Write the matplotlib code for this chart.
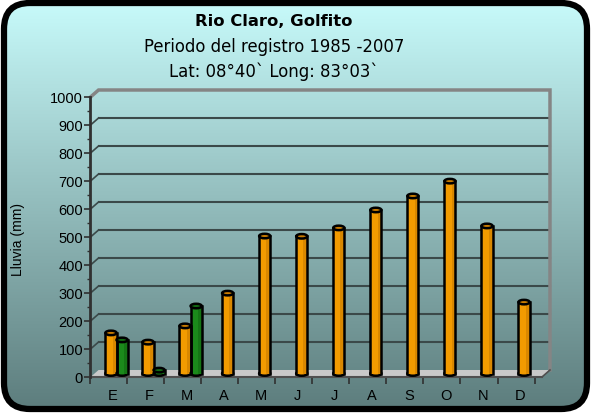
import matplotlib
matplotlib.use("Agg")
import matplotlib.pyplot as plt
import numpy as np
from matplotlib.patches import Rectangle, Ellipse, Polygon, FancyBboxPatch

# --- Data ---
months = ["E", "F", "M", "A", "M", "J", "J", "A", "S", "O", "N", "D"]
rain_orange = [145, 112, 170, 287, 491, 490, 520, 584, 634, 687, 527, 255]
rain_green = [120, 12, 241]          # only first three months
y_ticks = list(range(0, 1001, 100))

title = "Rio Claro, Golfito"
subtitle1 = "Periodo del registro 1985 -2007"
subtitle2 = "Lat: 08°40` Long: 83°03`"

ORANGE = "#f29b00"
ORANGE_DARK = "#c97c00"
GREEN = "#1b8a1b"
GREEN_DARK = "#126a12"

W, H = 591, 414
fig = plt.figure(figsize=(W / 100, H / 100), dpi=100)

# --- background with gradient and rounded frame ---
bg = fig.add_axes([0, 0, 1, 1])
bg.set_xlim(0, W)
bg.set_ylim(0, H)
bg.axis("off")
top_c = np.array([200, 251, 251]) / 255
bot_c = np.array([92, 124, 124]) / 255
t = np.linspace(0, 1, 256)[:, None]
grad = (bot_c * (1 - t) + top_c * t)[:, None, :]
img = bg.imshow(grad, extent=[0, W, 0, H], origin="lower", aspect="auto", zorder=0)
frame = FancyBboxPatch((4, 4), W - 8, H - 8, boxstyle="round,pad=0,rounding_size=26",
                       fc="none", ec="black", lw=4.5, zorder=2)
bg.add_patch(frame)
img.set_clip_path(frame)

# --- main axes (front plane) ---
ax = fig.add_axes([90 / W, 36 / H, 452 / W, 280 / H])
ax.patch.set_alpha(0)
x0, x1 = -0.593, 11.593
ax.set_xlim(x0, x1)
ax.set_ylim(0, 1000)

px_x = 452 / (x1 - x0)      # pixels per category unit
px_y = 280 / 1000           # pixels per mm
DX = 8 / px_x
DY = 7 / px_y

# floor
ax.add_patch(Polygon([(x0, 0), (x1, 0), (x1 + DX, DY), (x0 + DX, DY)],
                     closed=True, fc="#c9c9c9", ec="none", clip_on=False, zorder=1))
ax.plot([x1, x1 + DX], [0, DY], color="#505050", lw=1.2, clip_on=False, zorder=2)

# back wall gridlines and side-wall diagonals
for v in y_ticks[1:-1]:
    ax.plot([x0 + DX, x1 + DX], [v + DY, v + DY], color="#3b4949", lw=1.5,
            clip_on=False, zorder=1)
    ax.plot([x0, x0 + DX], [v, v + DY], color="#3b4949", lw=1.2, clip_on=False, zorder=1)
# back wall frame
ax.plot([x0, x0 + DX, x1 + DX, x1 + DX], [1000, 1000 + DY, 1000 + DY, DY],
        color="#858585", lw=2.5, clip_on=False, zorder=1, solid_joinstyle="miter")


def cylinder(xc, val, w, fc, dark):
    ox, oy = DX / 2, DY / 2
    eh = 4.5 / px_y
    ax.add_patch(Ellipse((xc + ox, oy), w, eh, fc=fc, ec="black", lw=1.8, zorder=3, clip_on=False))
    ax.add_patch(Rectangle((xc - w / 2 + ox, oy), w, val, fc=fc, ec="none", zorder=3, clip_on=False))
    ax.add_patch(Rectangle((xc + w * 0.15 + ox, oy), w * 0.35, val, fc=dark, ec="none",
                           alpha=0.6, zorder=3, clip_on=False))
    ax.plot([xc - w / 2 + ox] * 2, [oy, oy + val], color="black", lw=1.8, zorder=4, clip_on=False)
    ax.plot([xc + w / 2 + ox] * 2, [oy, oy + val], color="black", lw=1.8, zorder=4, clip_on=False)
    ax.add_patch(Ellipse((xc + ox, oy + val), w, eh, fc=dark, ec="black", lw=1.8, zorder=5, clip_on=False))


bw = 0.3
for i, v in enumerate(rain_orange):
    if i < len(rain_green):
        cylinder(i - bw / 2, v, bw, ORANGE, ORANGE_DARK)
        cylinder(i + bw / 2, rain_green[i], bw, GREEN, GREEN_DARK)
    else:
        cylinder(i, v, bw, ORANGE, ORANGE_DARK)

# spines and ticks
for s in ["top", "right"]:
    ax.spines[s].set_visible(False)
ax.spines["left"].set_color("#303030")
ax.spines["left"].set_linewidth(2)
ax.spines["bottom"].set_color("#505050")
ax.spines["bottom"].set_linewidth(1.5)
ax.spines["left"].set_zorder(6)

ax.set_yticks(y_ticks)
ax.set_yticks(range(50, 1000, 100), minor=True)
ax.tick_params(axis="y", which="major", length=4, width=1.2, color="#303030", pad=1,
               labelsize=10.5)
ax.tick_params(axis="y", which="minor", length=2.5, width=1, color="#303030")
for lab in ax.get_yticklabels():
    lab.set_fontfamily("Liberation Sans")

ax.set_xticks(range(len(months)))
ax.set_xticklabels(months, fontfamily="Liberation Sans", fontsize=10.5)
ax.set_xticks([k + 0.5 - DX / 2 for k in range(-1, len(months))], minor=True)
ax.tick_params(axis="x", which="major", length=0, pad=8)
ax.tick_params(axis="x", which="minor", length=5, width=1.2, color="#303030")

fig.text(18 / W, 1 - 240 / H, "Lluvia (mm)", rotation=90, ha="center", va="center",
         fontsize=10, fontfamily="Liberation Sans")

# titles
fig.text(274 / W, 1 - 21 / H, title, ha="center", va="center", fontsize=11.8,
         fontweight="bold", fontfamily="DejaVu Sans")
fig.text(274 / W, 1 - 47 / H, subtitle1, ha="center", va="center", fontsize=11.9,
         fontfamily="DejaVu Sans")
fig.text(274 / W, 1 - 72 / H, subtitle2, ha="center", va="center", fontsize=11.9,
         fontfamily="DejaVu Sans")

fig.savefig("out.png", dpi=100)
